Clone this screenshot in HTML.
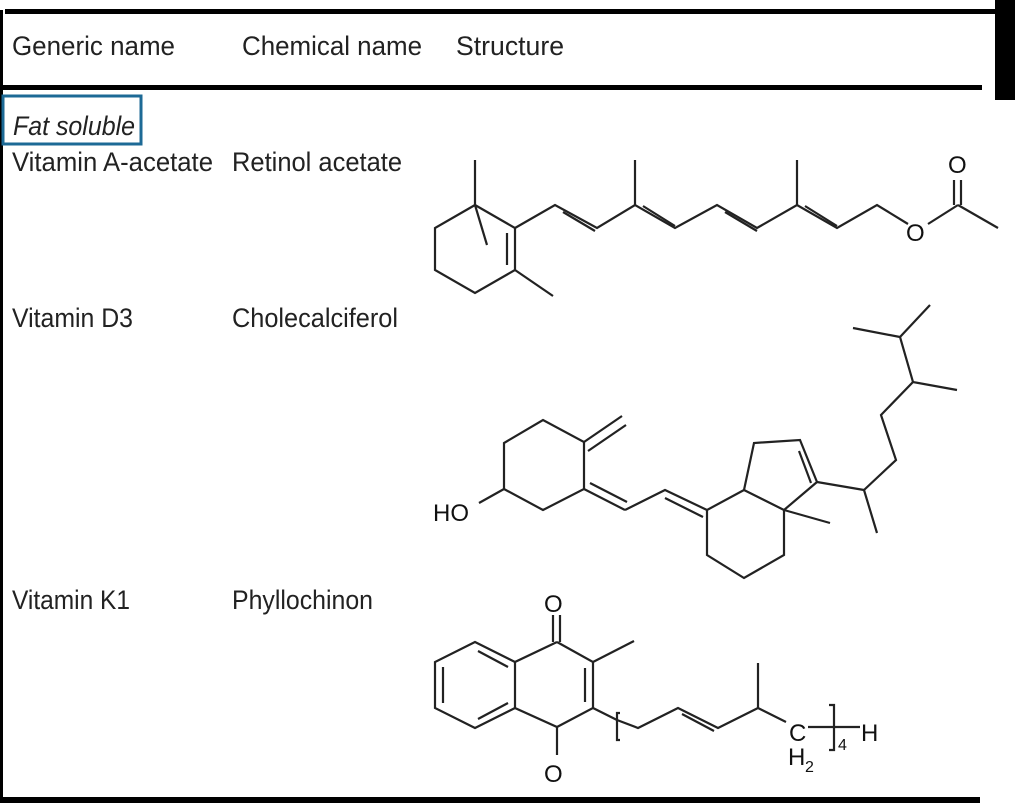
<!DOCTYPE html>
<html><head><meta charset="utf-8"><style>
html,body{margin:0;padding:0;background:#fff;}
svg{display:block;}
.t{font-family:"Liberation Sans Narrow","Liberation Sans",sans-serif;font-size:27px;fill:#222;}
.a{font-family:"Liberation Sans",sans-serif;font-size:24px;fill:#111;}
</style></head><body>
<svg width="1015" height="803" viewBox="0 0 1015 803" xmlns="http://www.w3.org/2000/svg">
<rect x="0" y="0" width="1015" height="803" fill="#fff"/>
<rect x="5" y="9" width="992" height="5" fill="#000"/>
<rect x="995" y="0" width="20" height="100" fill="#000"/>
<rect x="0" y="85" width="982" height="5" fill="#000"/>
<rect x="0" y="10" width="3" height="793" fill="#000"/>
<rect x="0" y="797" width="980" height="6" fill="#000"/>
<text class="t" x="12" y="55" textLength="163" lengthAdjust="spacingAndGlyphs">Generic name</text>
<text class="t" x="242" y="55" textLength="180" lengthAdjust="spacingAndGlyphs">Chemical name</text>
<text class="t" x="456" y="55" textLength="108" lengthAdjust="spacingAndGlyphs">Structure</text>
<rect x="3" y="96" width="138" height="48" fill="none" stroke="#1d6a96" stroke-width="3"/>
<text class="t" x="13" y="135" textLength="122" lengthAdjust="spacingAndGlyphs" font-style="italic">Fat soluble</text>
<text class="t" x="12" y="171" textLength="201" lengthAdjust="spacingAndGlyphs">Vitamin A-acetate</text>
<text class="t" x="232" y="171" textLength="170" lengthAdjust="spacingAndGlyphs">Retinol acetate</text>
<text class="t" x="12" y="327" textLength="121" lengthAdjust="spacingAndGlyphs">Vitamin D3</text>
<text class="t" x="232" y="327" textLength="166" lengthAdjust="spacingAndGlyphs">Cholecalciferol</text>
<text class="t" x="12" y="609" textLength="118" lengthAdjust="spacingAndGlyphs">Vitamin K1</text>
<text class="t" x="232" y="609" textLength="141" lengthAdjust="spacingAndGlyphs">Phyllochinon</text>

<g stroke="#222" stroke-width="2.2" fill="none" stroke-linejoin="miter">
<polyline points="475,205 435,228 435,270 475,293 515,270 515,228 475,205"/>
<line x1="475" y1="160" x2="475" y2="205"/>
<line x1="475" y1="205" x2="487" y2="245"/>
<line x1="507" y1="233" x2="507" y2="265"/>
<line x1="515" y1="270" x2="553" y2="296"/>
<polyline points="515,228 555,205 597,228 635,205 675,228 717,205 757,228 797,205 837,228 877,205 908,224"/>
<line x1="563" y1="212" x2="595" y2="231"/>
<line x1="643" y1="206" x2="675" y2="226"/>
<line x1="725" y1="212" x2="757" y2="231"/>
<line x1="805" y1="206" x2="837" y2="226"/>
<line x1="635" y1="160" x2="635" y2="205"/>
<line x1="797" y1="160" x2="797" y2="205"/>
<line x1="928" y1="224" x2="958" y2="205"/>
<line x1="958" y1="205" x2="998" y2="228"/>
<line x1="954" y1="180" x2="954" y2="205"/>
<line x1="961" y1="180" x2="961" y2="205"/>
<polyline points="504,489 504,443 543,420 584,442 584,489 543,510 504,489"/>
<line x1="504" y1="489" x2="479" y2="503"/>
<line x1="584" y1="442" x2="622" y2="416"/>
<line x1="588" y1="451" x2="626" y2="425"/>
<line x1="584" y1="489" x2="625" y2="510"/>
<line x1="590" y1="483" x2="627" y2="502"/>
<polyline points="625,510 665,490 707,510"/>
<line x1="665" y1="498" x2="703" y2="517"/>
<polyline points="707,510 744,490 784,510 784,555 744,578 707,555 707,510"/>
<polyline points="744,490 754,443 800,440 817,482 784,510"/>
<line x1="799" y1="451" x2="811" y2="483"/>
<line x1="784" y1="510" x2="830" y2="523"/>
<line x1="817" y1="482" x2="864" y2="490"/>
<line x1="864" y1="490" x2="877" y2="533"/>
<polyline points="864,490 896,460 881,415 913,382 957,390"/>
<polyline points="913,382 900,337 853,328"/>
<line x1="900" y1="337" x2="930" y2="305"/>
<polyline points="557,642 593,662 593,708 557,727 515,708 515,662 557,642"/>
<polyline points="515,662 475,642 435,662 435,708 475,728 515,708"/>
<line x1="585" y1="668" x2="585" y2="702"/>
<line x1="443" y1="667" x2="443" y2="703"/>
<line x1="478" y1="651" x2="508" y2="667"/>
<line x1="478" y1="719" x2="508" y2="703"/>
<line x1="553" y1="615" x2="553" y2="642"/>
<line x1="560" y1="615" x2="560" y2="642"/>
<line x1="557" y1="727" x2="557" y2="755"/>
<line x1="593" y1="662" x2="634" y2="641"/>
<line x1="593" y1="708" x2="617" y2="720"/>
<polyline points="620,713 617,713 617,740 620,740"/>
<polyline points="617,720 638,728 678,708 718,728 758,708 786,722"/>
<line x1="682" y1="714" x2="714" y2="731"/>
<line x1="758" y1="663" x2="758" y2="708"/>
<line x1="808" y1="727" x2="835" y2="727"/>
<polyline points="829,705 834,705 834,750 829,750"/>
<line x1="834" y1="727" x2="860" y2="727"/>
</g>
<text x="906" y="241" class="a">O</text>
<text x="948" y="173" class="a">O</text>
<text x="433" y="521" class="a">HO</text>
<text x="544" y="612" class="a">O</text>
<text x="544" y="782" class="a">O</text>
<text x="789" y="741" class="a">C</text>
<text x="788" y="765" class="a">H</text>
<text x="805" y="772" style="font-family:'Liberation Sans',sans-serif;font-size:16px;fill:#111">2</text>
<text x="838" y="750" style="font-family:'Liberation Sans',sans-serif;font-size:16px;fill:#111">4</text>
<text x="861" y="741" class="a">H</text>
</svg>
</body></html>
